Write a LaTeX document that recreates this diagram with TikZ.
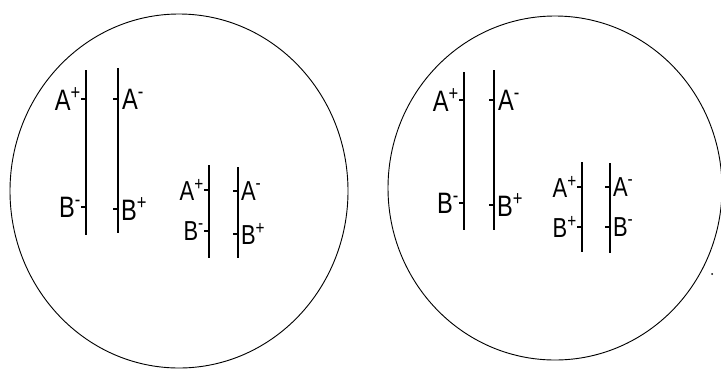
\documentclass[tikz,border=0pt]{standalone}
\usepackage{fontspec}
\setmainfont{Liberation Sans}[FakeStretch=0.8]
\usetikzlibrary{positioning,shapes.geometric}
\tikzset{
  cell/.style   = {line width=0.65pt, draw=black},
  strand/.style = {line width=1.2pt, draw=black},
  tck/.style    = {line width=0.8pt, draw=black},
  big/.style    = {font=\fontsize{21}{22}\selectfont},
  small/.style  = {font=\fontsize{19.5}{20}\selectfont},
  lblL/.style   = {anchor=east, inner sep=0pt, outer sep=0pt},
  lblR/.style   = {anchor=west, inner sep=0pt, outer sep=0pt},
}
\newcommand{\chp}[1]{#1\textsuperscript{+}}
\newcommand{\chm}[1]{#1\textsuperscript{-}}

\begin{document}
\begin{tikzpicture}[x=0.025cm, y=-0.025cm]
  \useasboundingbox (0,0) rectangle (721,369);

  % ---------------- cells ----------------
  \node[cell, ellipse, minimum width=338*0.025cm, minimum height=354*0.025cm, inner sep=0pt] (c1) at (179,191) {};
  \node[cell, ellipse, minimum width=334*0.025cm, minimum height=344*0.025cm, inner sep=0pt] (c2) at (555,188) {};

  % ---------------- left cell, long pair ----------------
  \coordinate (s1t) at (86,70);  \coordinate (s1b) at (86,235);
  \coordinate (s2t) at (118,68); \coordinate (s2b) at (118,233);
  \draw[strand] (s1t) -- (s1b);
  \draw[strand] (s2t) -- (s2b);
  \node[lblL, big] (a1) at (81,99) {\chp{A}};
  \draw[tck] (a1.east) -- (a1.east -| s1t);
  \node[lblL, big] (b1) at (81,207) {\chm{B}};
  \draw[tck] (b1.east) -- (b1.east -| s1t);
  \coordinate (t2a) at (113,99);
  \draw[tck] (t2a) -- (t2a -| s2t);
  \node[lblR, big] (a2) at (122,99) {\chm{A}};
  \coordinate (t2b) at (113,209);
  \draw[tck] (t2b) -- (t2b -| s2t);
  \node[lblR, big] (b2) at (121,209) {\chp{B}};

  % ---------------- left cell, short pair ----------------
  \coordinate (s3t) at (209,165); \coordinate (s3b) at (209,258);
  \coordinate (s4t) at (238,167); \coordinate (s4b) at (238,258);
  \draw[strand] (s3t) -- (s3b);
  \draw[strand] (s4t) -- (s4b);
  \node[lblL, small] (a3) at (204,190) {\chp{A}};
  \draw[tck] (a3.east) -- (a3.east -| s3t);
  \node[lblL, small] (b3) at (204,231) {\chm{B}};
  \draw[tck] (b3.east) -- (b3.east -| s3t);
  \coordinate (t4a) at (233,191);
  \draw[tck] (t4a) -- (t4a -| s4t);
  \node[lblR, small] (a4) at (241,191) {\chm{A}};
  \coordinate (t4b) at (233,234);
  \draw[tck] (t4b) -- (t4b -| s4t);
  \node[lblR, small] (b4) at (241,234) {\chp{B}};

  % ---------------- right cell, long pair ----------------
  \coordinate (s5t) at (464,72); \coordinate (s5b) at (464,230);
  \coordinate (s6t) at (494,70); \coordinate (s6b) at (494,230);
  \draw[strand] (s5t) -- (s5b);
  \draw[strand] (s6t) -- (s6b);
  \node[lblL, big] (a5) at (459,100) {\chp{A}};
  \draw[tck] (a5.east) -- (a5.east -| s5t);
  \node[lblL, big] (b5) at (459,203) {\chm{B}};
  \draw[tck] (b5.east) -- (b5.east -| s5t);
  \coordinate (t6a) at (489,100);
  \draw[tck] (t6a) -- (t6a -| s6t);
  \node[lblR, big] (a6) at (498,100) {\chm{A}};
  \coordinate (t6b) at (489,205);
  \draw[tck] (t6b) -- (t6b -| s6t);
  \node[lblR, big] (b6) at (497,205) {\chp{B}};

  % ---------------- right cell, short pair ----------------
  \coordinate (s7t) at (582,162); \coordinate (s7b) at (582,252);
  \coordinate (s8t) at (610,163); \coordinate (s8b) at (610,253);
  \draw[strand] (s7t) -- (s7b);
  \draw[strand] (s8t) -- (s8b);
  \node[lblL, small] (a7) at (577,187) {\chp{A}};
  \draw[tck] (a7.east) -- (a7.east -| s7t);
  \node[lblL, small] (b7) at (577,227) {\chp{B}};
  \draw[tck] (b7.east) -- (b7.east -| s7t);
  \coordinate (t8a) at (605,187);
  \draw[tck] (t8a) -- (t8a -| s8t);
  \node[lblR, small] (a8) at (613,187) {\chm{A}};
  \coordinate (t8b) at (605,227);
  \draw[tck] (t8b) -- (t8b -| s8t);
  \node[lblR, small] (b8) at (613,227) {\chm{B}};

  % stray dot at the right edge
  \fill (712,274) circle (1);
\end{tikzpicture}
\end{document}
